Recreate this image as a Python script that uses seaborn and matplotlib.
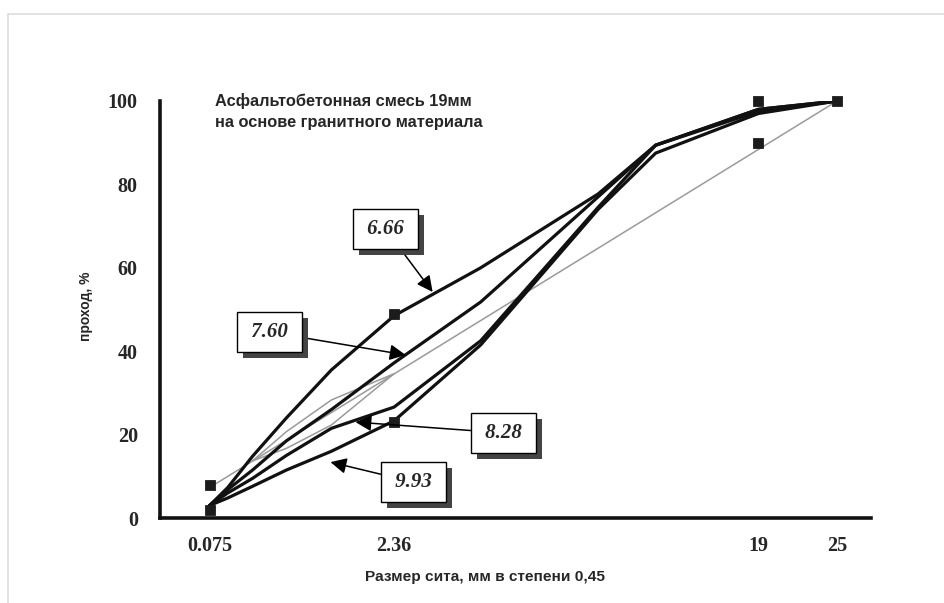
import numpy as np
import pandas as pd
import seaborn as sns
import matplotlib.pyplot as plt
import matplotlib.patheffects as pe

# sieve sizes, mm
sieves = [0.075, 0.15, 0.3, 0.6, 1.18, 2.36, 4.75, 9.5, 12.5, 19, 25]

# percent passing for the four mixes
mix_666 = [3, 7.3, 14.8, 24, 35.5, 48.5, 60, 77.7, 89.4, 98, 100]
mix_760 = [3, 6.8, 11.5, 18.5, 26, 37.2, 51.8, 77, 89.4, 98, 100]
mix_828 = [3, 6, 9.5, 15, 21.5, 26.6, 42.5, 74.5, 89.4, 97.5, 100]
mix_993 = [3, 4.8, 7.6, 11.5, 16, 23.3, 41.5, 74, 87.5, 97, 100]
mix_labels = ["6.66", "7.60", "8.28", "9.93"]

# maximum density line
mdl_sieves = [0.075, 25]
mdl_pass = [7.3, 100]

# restricted zone
rz_sieves = [0.3, 0.6, 1.18, 2.36, 1.18, 0.6, 0.3]
rz_pass = [13.7, 20.7, 28.3, 34.6, 22.3, 16.7, 13.7]

# control points
cp_sieves = [0.075, 0.075, 2.36, 2.36, 19, 19, 25]
cp_pass = [2, 8, 23, 49, 90, 100, 100]

tick_sieves = [0.075, 2.36, 19, 25]
tick_labels = ["0.075", "2.36", "19", "25"]

power = 0.45

rows = []
for lab, vals in zip(mix_labels, [mix_666, mix_760, mix_828, mix_993]):
    for s, v in zip(sieves, vals):
        rows.append({"mix": lab, "x": s ** power, "pass": v})
mixes = pd.DataFrame(rows)

mdl = pd.DataFrame({"x": np.array(mdl_sieves) ** power, "pass": mdl_pass})
rz = pd.DataFrame({"x": np.array(rz_sieves) ** power, "pass": rz_pass})
cp = pd.DataFrame({"x": np.array(cp_sieves) ** power, "pass": cp_pass})

sns.set_style("white")
plt.rcParams['font.family'] = ['Liberation Sans', 'DejaVu Sans']

fig = plt.figure(figsize=(9.44, 6.03), dpi=100)
ax = fig.add_axes([160 / 944, 1 - 518 / 603, (871 - 160) / 944, (518 - 101) / 603])

# grey reference lines
sns.lineplot(data=mdl, x="x", y="pass", color="#9a9a9a", lw=1.1, ax=ax,
             sort=False, estimator=None)
sns.lineplot(data=rz, x="x", y="pass", color="#9a9a9a", lw=1.1, ax=ax,
             sort=False, estimator=None)

# gradation curves
sns.lineplot(data=mixes, x="x", y="pass", hue="mix", palette=["#111111"] * 4,
             lw=2.3, ax=ax, sort=False, estimator=None, legend=False)

sns.scatterplot(data=cp, x="x", y="pass", marker="s", s=55, color="#1c1c1c",
                edgecolor="#1c1c1c", ax=ax, zorder=5, clip_on=False)

ax.set_xlim(0, 4.47)
ax.set_ylim(0, 100)
ax.set_xticks([s ** power for s in tick_sieves])
ax.set_xticklabels(tick_labels)
ax.set_yticks([0, 20, 40, 60, 80, 100])
ax.tick_params(length=0)
ax.tick_params(axis="x", pad=13)
ax.tick_params(axis="y", pad=16)
for lab in ax.get_xticklabels() + ax.get_yticklabels():
    lab.set_fontfamily("Liberation Serif")
    lab.set_fontweight("bold")
    lab.set_fontsize(14.5)

for side in ["top", "right"]:
    ax.spines[side].set_visible(False)
for side in ["left", "bottom"]:
    ax.spines[side].set_linewidth(2.6)
    ax.spines[side].set_color("#111111")

ax.set_xlabel("")
ax.set_ylabel("")

fig.text(485 / 944, 1 - 577 / 603, "Размер сита, мм в степени 0,45",
         ha="center", va="center", fontsize=11.1, fontweight="bold")
fig.text(86 / 944, 1 - 306 / 603, "проход, %", rotation=90,
         ha="center", va="center", fontsize=10, fontweight="bold")
fig.text(215 / 944, 1 - 101 / 603, "Асфальтобетонная смесь 19мм",
         ha="left", va="center", fontsize=11.8, fontweight="bold")
fig.text(215 / 944, 1 - 122 / 603, "на основе гранитного материала",
         ha="left", va="center", fontsize=11.8, fontweight="bold")

# labelled arrows (box centre -> point on curve), data coordinates
notes = [
    ("6.66", (1.418, 69.3), (1.714, 54.2)),
    ("7.60", (0.689, 44.6), (1.544, 39.1)),
    ("8.28", (2.160, 20.4), (1.229, 23.0)),
    ("9.93", (1.594, 8.6), (1.072, 13.4)),
]
for txt, xytext, xy in notes:
    a = ax.annotate("\u2009" + txt + "\u2009", xy=xy, xytext=xytext, ha="center", va="center",
                    fontsize=15, fontweight="bold", fontstyle="italic",
                    fontfamily="Liberation Serif", zorder=6,
                    bbox=dict(boxstyle="square,pad=0.48", fc="white", ec="black", lw=1.0),
                    arrowprops=dict(arrowstyle="-|>", color="black", lw=1.1,
                                    mutation_scale=24, shrinkA=0, shrinkB=0))
    a.get_bbox_patch().set_path_effects(
        [pe.withSimplePatchShadow(offset=(4.5, -4.5), shadow_rgbFace="#444444", alpha=1.0)])

# faint page border from the scan
fig.add_artist(plt.Line2D([8 / 944, 8 / 944], [0, 1 - 14 / 603], color="#dddddd", lw=1.2))
fig.add_artist(plt.Line2D([8 / 944, 1], [1 - 14 / 603, 1 - 14 / 603], color="#dddddd", lw=1.2))

fig.savefig("out.png", dpi=100)
